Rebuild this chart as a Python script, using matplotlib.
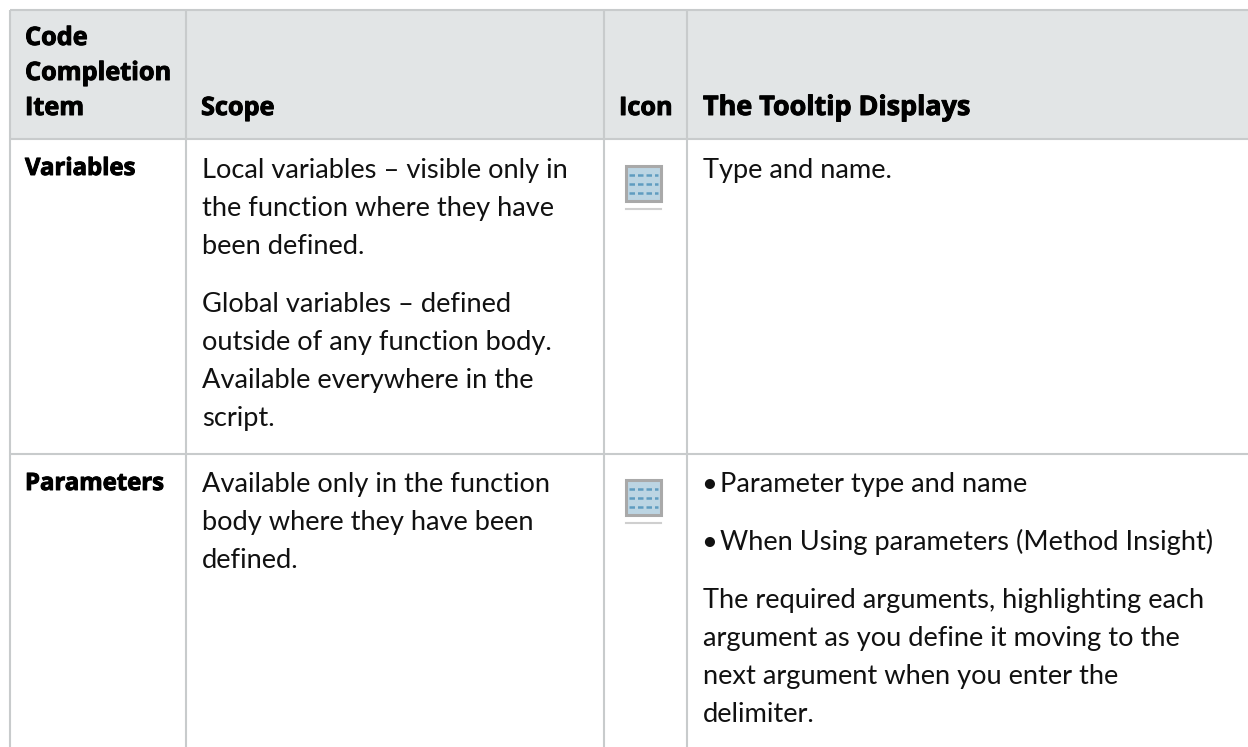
import matplotlib
matplotlib.use('Agg')
import matplotlib.pyplot as plt
import matplotlib.patheffects as pe
from matplotlib.patches import Rectangle

W, H = 1248, 747
LINE = '#c8cbcc'
HEAD = '#e2e5e6'
INK = '#111111'

col_lines = [10, 186, 604, 687]
row_lines = [10, 139, 454]

header = [
    (25, 45, 'Code'),
    (25, 80, 'Completion'),
    (25, 115, 'Item'),
    (201, 115, 'Scope'),
    (619, 115, 'Icon'),
]
tooltip_head = [(703, 115, 'The Tooltip Displays')]
row_names = [(25, 175, 'Variables'), (25, 490, 'Parameters')]
body = [
    (202, 178, 'Local variables – visible only in'),
    (202, 216, 'the function where they have'),
    (202, 254, 'been defined.'),
    (202, 312, 'Global variables – defined'),
    (202, 350, 'outside of any function body.'),
    (202, 388, 'Available everywhere in the'),
    (202, 426, 'script.'),
    (703, 178, 'Type and name.'),
    (202, 492, 'Available only in the function'),
    (202, 530, 'body where they have been'),
    (202, 568, 'defined.'),
    (701, 492, '•'),
    (720, 492, 'Parameter type and name'),
    (701, 550, '•'),
    (720, 550, 'When Using parameters (Method Insight)'),
    (703, 608, 'The required arguments, highlighting each'),
    (703, 646, 'argument as you define it moving to the'),
    (703, 684, 'next argument when you enter the'),
    (703, 722, 'delimiter.'),
]
icon_tops = [166, 480]

fig = plt.figure(figsize=(W / 100, H / 100), dpi=100)
ax = fig.add_axes([0, 0, 1, 1])
ax.set_xlim(0, W)
ax.set_ylim(H, 0)
ax.axis('off')

ax.add_patch(Rectangle((10, 10), W - 10, 129, fc=HEAD, ec='none'))
for x in col_lines:
    ax.plot([x, x], [10, H], color=LINE, lw=1.5, solid_capstyle='butt')
for y in row_lines:
    ax.plot([10, W], [y, y], color=LINE, lw=1.5, solid_capstyle='butt')

for items, size in ((header, 18.2), (tooltip_head, 19.4), (row_names, 17.2)):
    for x, y, s in items:
        t = ax.text(x, y, s, fontsize=size, fontweight='bold', family='Open Sans', color='#000000', va='baseline')
        t.set_path_effects([pe.withStroke(linewidth=0.7, foreground='#000000')])
for x, y, s in body:
    ax.text(x, y, s, fontsize=19.6, family='Lato', color=INK, va='baseline')

for top in icon_tops:
    ax.add_patch(Rectangle((626, top), 35, 35, fc='#bcd5e3', ec='#a9a9a9', lw=2.2))
    for dy in (9, 18, 27):
        ax.plot([629, 658], [top + dy, top + dy], color='#5f9cc0', lw=1.8, ls=(0, (2.2, 1.2)))
    ax.plot([626, 661], [top + 43, top + 43], color='#cfcfcf', lw=1.5)

fig.savefig('out.png', dpi=100)
